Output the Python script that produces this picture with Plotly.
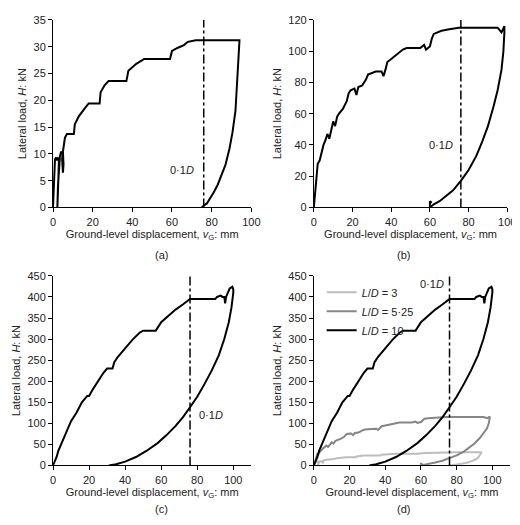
import plotly.graph_objects as go

# L/D = 3 (panel a)
a_x = [0, 0.5, 1, 1.5, 2, 2.5, 3, 2.5, 2.2, 2.5, 3.5, 4, 5, 5.3, 5, 4.6, 5, 6, 7, 10, 10.5, 11, 13, 16, 18, 23, 23.5, 24, 26, 28, 37, 37.5, 38, 42, 46, 59, 59.5, 60, 63, 66, 68, 72, 80, 94,
       94, 93.5, 93, 92, 90.5, 89, 87, 85, 83, 81, 79, 77.5, 76.5, 75]
a_y = [0, 6, 9, 9.3, 8.8, 9.2, 9, 3, 0, 4, 9.5, 10.3, 10.4, 8, 6.5, 9, 10.4, 13, 13.7, 13.7, 13.7, 15.5, 17, 18.5, 19.4, 19.4, 19.4, 21.5, 22.8, 23.6, 23.6, 24.5, 25.5, 26.8, 27.7, 27.7, 28.5, 29.2, 29.8, 30.3, 30.9, 31.2, 31.2, 31.2,
       31, 27, 23, 18, 14, 11, 8, 6, 4.2, 2.8, 1.5, 0.7, 0.5, 0]

# L/D = 5.25 (panel b)
b_x = [0, 0.7, 1.5, 2, 3, 4, 5, 6, 7, 8, 9, 10, 11, 12, 13, 15, 17, 18, 19, 21, 22, 23, 25, 27, 28, 30, 32, 35, 36, 37, 38, 40, 42, 44, 46, 48, 52, 55, 57, 58, 60, 61, 62, 64, 66, 70, 75, 80, 85, 90, 95, 97, 98, 98.5,
       98.5, 98, 97, 95, 93, 90, 87, 84, 80, 76, 72, 68, 65, 62, 60, 60, 61]
b_y = [0, 10, 20, 28, 30, 36, 40, 43, 47, 44, 50, 55, 52, 58, 60, 63, 68, 73, 75, 76, 72, 77, 78, 82, 85, 86, 87, 87, 84, 88, 93, 95, 97, 99, 101, 102, 102, 102, 104, 101, 103, 108, 111, 112, 113, 114, 115, 115, 115, 115, 115, 112, 115, 116,
       112, 100, 88, 75, 65, 52, 42, 33, 24, 17, 11, 7, 4, 2, 0, 4, 3]

# L/D = 10 (panel c)
c_x = [0, 1, 2, 3, 5, 7, 10, 13, 16, 19, 20, 22, 25, 28, 30, 33, 34, 36, 40, 44, 48, 50, 56, 57, 60, 64, 68, 72, 76, 85, 90, 91, 93, 94, 95, 95.5, 96, 97, 98, 99.5, 100,
       100, 99, 97.5, 95, 92, 88, 84, 80, 76, 72, 68, 63, 58, 52, 46, 40, 35, 31]
c_y = [0, 10, 20, 35, 55, 75, 105, 125, 150, 165, 165, 180, 200, 220, 230, 230, 245, 258, 278, 298, 315, 320, 320, 320, 340, 356, 370, 382, 395, 395, 395, 400, 403, 400, 400, 385, 400, 410, 420, 424, 418,
       410, 375, 340, 300, 262, 225, 193, 163, 138, 114, 94, 72, 53, 35, 20, 9, 3, 0]

fig = go.Figure()
line = dict(color="black", width=2)
panels = [("x", "y", a_x, a_y), ("x2", "y2", b_x, b_y), ("x3", "y3", c_x, c_y)]
for xa, ya, xs, ys in panels:
    fig.add_trace(go.Scatter(x=xs, y=ys, mode="lines", line=line, xaxis=xa, yaxis=ya, showlegend=False))
for name, xs, ys, col in [("<i>L</i>/<i>D</i> = 3", a_x, a_y, "#bdbdbd"),
                          ("<i>L</i>/<i>D</i> = 5·25", b_x, b_y, "#858585"),
                          ("<i>L</i>/<i>D</i> = 10", c_x, c_y, "black")]:
    fig.add_trace(go.Scatter(x=xs, y=ys, mode="lines", name=name, line=dict(color=col, width=2), xaxis="x4", yaxis="y4"))

W, H = 520, 525
def xd(a, b): return [a / W, b / W]
def yd(top, bot): return [1 - bot / H, 1 - top / H]
ax = dict(showline=True, linecolor="black", linewidth=1, ticks="outside", ticklen=4, tickcolor="black",
          showgrid=False, zeroline=False, tickfont=dict(size=11, color="#222"))
xt = "Ground-level displacement, <i>v</i><sub>G</sub>: mm"
yt = "Lateral load, <i>H</i>: kN"
tf = dict(size=11, color="#222")
specs = [  # xdomain, ydomain, xrange, yrange, ydtick
    ("", xd(43, 246), yd(6, 198), [0, 100], [0, 35], 5),
    ("2", xd(310, 508), yd(6, 198), [0, 100], [0, 120], 20),
    ("3", xd(43, 246), yd(268, 462), [0, 110], [0, 450], 50),
    ("4", xd(310, 511), yd(268, 462), [0, 110], [0, 450], 50),
]
for s, xdm, ydm, xr, yr, dt in specs:
    fig.update_layout(**{
        "xaxis" + s: dict(ax, domain=xdm, range=xr, dtick=20, anchor="y" + s,
                          title=dict(text=xt, font=tf, standoff=2)),
        "yaxis" + s: dict(ax, domain=ydm, range=yr, dtick=dt, anchor="x" + s,
                          title=dict(text=yt, font=tf, standoff=4)),
    })
    fig.add_shape(type="line", x0=76, x1=76, y0=0, y1=yr[1], xref="x" + s, yref="y" + s,
                  line=dict(color="black", width=1.5, dash="dashdot"))

ann = [("x", "y", 72, 7, "right"), ("x2", "y2", 73, 40, "right"), ("x3", "y3", 80, 120, "left"), ("x4", "y4", 74, 430, "right")]
for xa, ya, xv, yv, al in ann:
    fig.add_annotation(x=xv, y=yv, xref=xa, yref=ya, text="0·1<i>D</i>", showarrow=False,
                       xanchor=al, font=dict(size=11, color="#222"))
for lab, xp, yp in [("(a)", 145, 247), ("(b)", 410, 247), ("(c)", 145, 515), ("(d)", 410, 515)]:
    fig.add_annotation(x=xp / W, y=1 - yp / H, xref="paper", yref="paper", text=lab, showarrow=False,
                       font=dict(size=11, color="#222"))

fig.update_layout(width=W, height=H, margin=dict(l=0, r=0, t=0, b=0), plot_bgcolor="white", paper_bgcolor="white",
                  font=dict(family="Liberation Sans, Arial", size=11, color="#222"),
                  legend=dict(x=318 / W, y=1 - 270 / H, xanchor="left", yanchor="top", bgcolor="rgba(0,0,0,0)",
                              font=dict(size=11), tracegroupgap=0, itemwidth=30))
fig.write_html("out.html")
